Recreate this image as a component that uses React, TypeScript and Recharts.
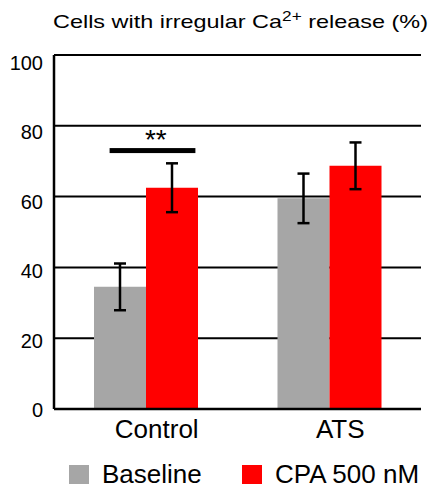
import { Bar, BarChart, CartesianGrid, ErrorBar, LabelList, XAxis, YAxis } from 'recharts';

const CATEGORIES = ['Control', 'ATS'];
const BASELINE = [34.5, 59.5];
const BASELINE_ERR = [6.6, 7.0];
const CPA = [62.5, 68.7];
const CPA_ERR = [6.9, 6.6];
const Y_TICKS = [0, 20, 40, 60, 80, 100];
// significance bracket level (in % units) per category, null = none
const SIG_LEVEL = [73, null];
const SIG_MARK = ['**', ''];

const SERIES = [
  { key: 'baseline', name: 'Baseline', color: '#a6a6a6' },
  { key: 'cpa', name: 'CPA 500 nM', color: '#ff0000' },
];

const data = CATEGORIES.map((name, i) => ({
  name,
  baseline: BASELINE[i],
  baselineErr: BASELINE_ERR[i],
  cpa: CPA[i],
  cpaErr: CPA_ERR[i],
  sig: SIG_LEVEL[i],
  mark: SIG_MARK[i],
}));

const FONT = '"Liberation Sans", Arial, sans-serif';

function SigBracket(props: any) {
  const vb = props.viewBox ?? props;
  const row = data[props.index] ?? data.find((d) => d.sig === props.value);
  if (!row || row.sig == null || !vb) return null;
  const { x, y, width, height } = vb;
  const base = y + height;
  const unit = height / row.baseline;
  const ySig = base - row.sig * unit;
  const x1 = x + width * 0.3;
  const x2 = x + width * 1.95;
  return (
    <g>
      <rect x={x1} y={ySig - 2.5} width={x2 - x1} height={5} fill="#000" />
      <text x={x + width * 1.19} y={ySig - 2} textAnchor="middle" fontSize={28} fontFamily={FONT} fill="#000">
        {row.mark}
      </text>
    </g>
  );
}

function XTick({ x, y, payload }: any) {
  return (
    <text x={x + 11} y={y} dy="0.71em" textAnchor="middle" fontSize={26} fontFamily={FONT} fill="#000">
      {payload.value}
    </text>
  );
}

function YTick({ x, y, payload }: any) {
  // labels in the original sit slightly below their grid lines, more so near the top
  const shift = 1 + payload.value * 0.065;
  return (
    <text x={x} y={y + shift} dy="0.355em" textAnchor="end" fontSize={20} fontFamily={FONT} fill="#000">
      {payload.value}
    </text>
  );
}

export default function App() {
  return (
    <div style={{ position: 'absolute', left: 0, top: 0, width: 435, height: 491, background: '#fff' }}>
      <BarChart
        width={435}
        height={491}
        data={data}
        margin={{ top: 55, right: 14, left: 0, bottom: 52 }}
        barSize={52}
        barGap={0}
      >
        <CartesianGrid vertical={false} stroke="#000" strokeWidth={2} />
        <XAxis
          dataKey="name"
          height={30}
          tickLine={false}
          tickSize={0}
          tickMargin={11}
          axisLine={{ stroke: '#000', strokeWidth: 2.5 }}
          tick={<XTick />}
          interval={0}
        />
        <YAxis
          width={54}
          domain={[0, 100]}
          ticks={Y_TICKS}
          interval={0}
          tickLine={false}
          tickSize={0}
          tickMargin={11}
          axisLine={{ stroke: '#000', strokeWidth: 2.5 }}
          tick={<YTick />}
        />
        <YAxis
          yAxisId="right"
          orientation="right"
          width={0}
          domain={[0, 100]}
          tick={false}
          tickLine={false}
          axisLine={{ stroke: '#000', strokeWidth: 2.5 }}
        />
        <Bar dataKey="baseline" name={SERIES[0].name} fill={SERIES[0].color} isAnimationActive={false}>
          <ErrorBar dataKey="baselineErr" width={6} stroke="#000" strokeWidth={2.5} />
          <LabelList dataKey="sig" content={<SigBracket />} />
        </Bar>
        <Bar dataKey="cpa" name={SERIES[1].name} fill={SERIES[1].color} isAnimationActive={false}>
          <ErrorBar dataKey="cpaErr" width={6} stroke="#000" strokeWidth={2.5} />
        </Bar>
      </BarChart>
      <svg
        width={435}
        height={491}
        style={{ position: 'absolute', left: 0, top: 0, pointerEvents: 'none' }}
        fontFamily={FONT}
      >
        <text x={53} y={28} fontSize={19} fill="#000" textLength={375} lengthAdjust="spacingAndGlyphs">
          Cells with irregular Ca
          <tspan dy={-7} fontSize={14}>2+</tspan>
          <tspan dy={7}> release (%)</tspan>
        </text>
        {SERIES.map((s, i) => {
          const x0 = i === 0 ? 69 : 242;
          return (
            <g key={s.key}>
              <rect x={x0} y={465} width={20} height={19} fill={s.color} />
              <text x={x0 + 33} y={483} fontSize={26} fill="#000">
                {s.name}
              </text>
            </g>
          );
        })}
      </svg>
    </div>
  );
}
